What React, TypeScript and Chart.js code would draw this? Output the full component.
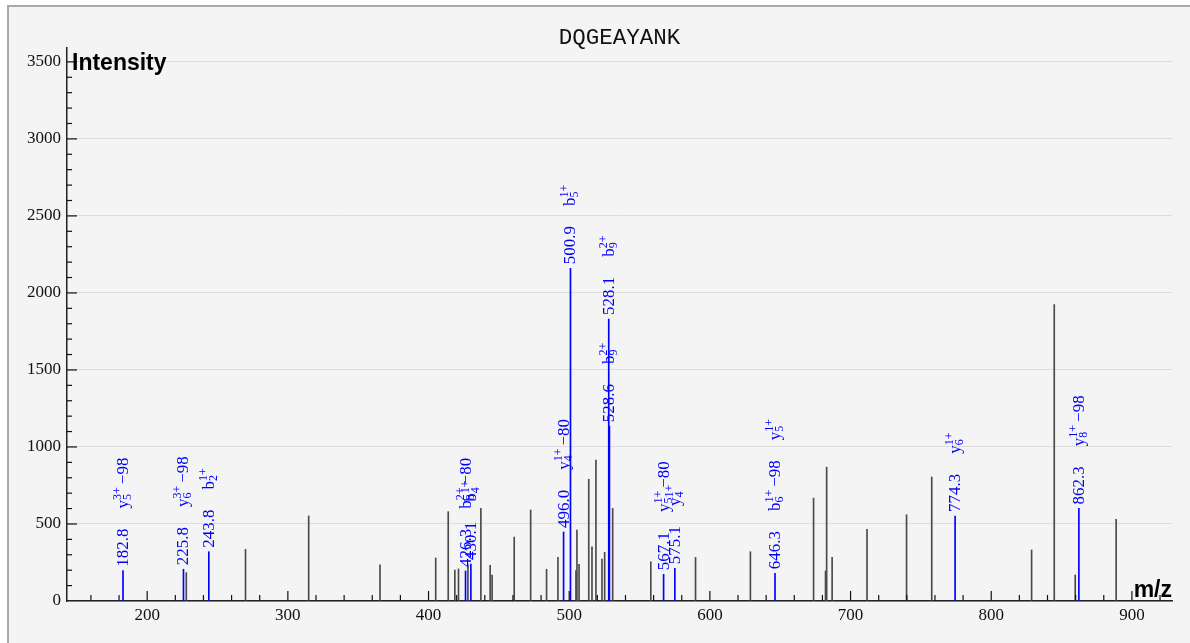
import React, { useEffect, useRef } from 'react';
import { Chart, registerables } from 'chart.js';

Chart.register(...registerables);

const chartTitle = 'DQGEAYANK';
const yAxisTitle = 'Intensity';
const xAxisTitle = 'm/z';

const xTickValues = [200, 300, 400, 500, 600, 700, 800, 900];
const yTickValues = [0, 500, 1000, 1500, 2000, 2500, 3000, 3500];

// Unannotated peaks (gray)
const grayMz = [227.8, 269.9, 314.8, 365.5, 405.1, 414.0, 418.7, 421.3, 428.0, 437.2, 443.8, 445.2, 460.9, 472.6, 483.9, 492.0, 504.8, 505.5, 507.0, 513.9, 516.2, 519.0, 523.3, 525.2, 530.9, 558.0, 589.8, 628.8, 673.7, 682.2, 683.0, 686.9, 711.7, 739.8, 757.7, 828.7, 844.8, 859.7, 888.8];
const grayIntensity = [184, 335, 552, 234, 279, 580, 201, 208, 234, 601, 232, 169, 415, 591, 206, 283, 197, 461, 238, 790, 352, 915, 272, 316, 601, 255, 283, 320, 668, 195, 869, 284, 466, 560, 805, 331, 1925, 169, 530];

// Annotated peaks (blue)
const ionMz = [182.8, 225.8, 243.8, 426.3, 430.1, 496.0, 500.9, 528.1, 528.6, 567.1, 575.1, 646.3, 774.3, 862.3];
const ionIntensity = [197, 206, 320, 195, 240, 448, 2160, 1830, 1135, 173, 212, 180, 552, 601];
const ionValueLabels = ['182.8', '225.8', '243.8', '426.3', '430.1', '496.0', '500.9', '528.1', '528.6', '567.1', '575.1', '646.3', '774.3', '862.3'];
const ionNames = [
  [{ t: 'y', sub: '5', sup: '3+', loss: '−98' }],
  [{ t: 'y', sub: '6', sup: '3+', loss: '−98' }],
  [{ t: 'b', sub: '2', sup: '1+', loss: '' }],
  [{ t: 'b', sub: '8', sup: '2+', loss: '−80' }],
  [{ t: 'b', sub: '4', sup: '1+', loss: '' }],
  [{ t: 'y', sub: '4', sup: '1+', loss: '−80' }],
  [{ t: 'b', sub: '5', sup: '1+', loss: '' }],
  [{ t: 'b', sub: '9', sup: '2+', loss: '' }],
  [{ t: 'b', sub: '9', sup: '2+', loss: '' }],
  [{ t: 'y', sub: '5', sup: '1+', loss: '−80' }],
  [{ t: 'y', sub: '4', sup: '1+', loss: '' }],
  [{ t: 'b', sub: '6', sup: '1+', loss: '−98' }, { t: 'y', sub: '5', sup: '1+', loss: '' }],
  [{ t: 'y', sub: '6', sup: '1+', loss: '' }],
  [{ t: 'y', sub: '8', sup: '1+', loss: '−98' }],
];

const X_MIN = 143;
const X_MAX = 928.5;
const Y_MAX = 3590;

const SERIF = '"Liberation Serif", "Times New Roman", serif';
const MAIN_FONT = `17px ${SERIF}`;
const SMALL_FONT = `12px ${SERIF}`;
const BLUE = '#0000ff';
const GRAY = '#4a4a4a';

const tickPlugin = {
  id: 'insideTicks',
  afterDatasetsDraw(chart: any) {
    const { ctx, scales, chartArea } = chart;
    const xs = scales.x;
    const ys = scales.y;
    ctx.save();
    ctx.strokeStyle = '#111';
    ctx.lineWidth = 1.2;
    for (let v = 160; v <= 920; v += 20) {
      const px = xs.getPixelForValue(v);
      const len = v % 100 === 0 ? 10 : 6;
      ctx.beginPath();
      ctx.moveTo(px, chartArea.bottom);
      ctx.lineTo(px, chartArea.bottom - len);
      ctx.stroke();
    }
    for (let v = 100; v <= 3500; v += 100) {
      const py = ys.getPixelForValue(v);
      const len = v % 500 === 0 ? 10 : 5;
      ctx.beginPath();
      ctx.moveTo(chartArea.left, py);
      ctx.lineTo(chartArea.left + len, py);
      ctx.stroke();
    }
    ctx.restore();
  },
};

function drawIon(ctx: CanvasRenderingContext2D, ion: any, start: number): number {
  const base = 5;
  ctx.font = MAIN_FONT;
  ctx.fillText(ion.t, start, base);
  let pos = start + ctx.measureText(ion.t).width;
  ctx.font = SMALL_FONT;
  ctx.fillText(ion.sup, pos, base - 7);
  ctx.fillText(ion.sub, pos, base + 3);
  pos += Math.max(ctx.measureText(ion.sup).width, ctx.measureText(ion.sub).width);
  if (ion.loss) {
    pos += 3;
    ctx.font = MAIN_FONT;
    ctx.fillText(ion.loss, pos, base);
    pos += ctx.measureText(ion.loss).width;
  }
  return pos;
}

const labelPlugin = {
  id: 'peakLabels',
  afterDatasetsDraw(chart: any) {
    const { ctx, scales } = chart;
    const xs = scales.x;
    const ys = scales.y;
    ctx.save();
    ctx.fillStyle = BLUE;
    ctx.textAlign = 'left';
    ctx.textBaseline = 'alphabetic';
    ionMz.forEach((mz, i) => {
      const px = xs.getPixelForValue(mz);
      const py = ys.getPixelForValue(ionIntensity[i]);
      ctx.save();
      ctx.translate(px, py);
      ctx.rotate(-Math.PI / 2);
      ctx.font = MAIN_FONT;
      let pos = 4;
      ctx.fillText(ionValueLabels[i], pos, 5);
      pos += ctx.measureText(ionValueLabels[i]).width + 20;
      for (const ion of ionNames[i]) {
        pos = drawIon(ctx, ion, pos) + 20;
      }
      ctx.restore();
    });
    ctx.restore();
  },
};

const textPlugin = {
  id: 'texts',
  afterDraw(chart: any) {
    const { ctx, chartArea } = chart;
    ctx.save();
    ctx.fillStyle = '#111';
    ctx.textBaseline = 'alphabetic';
    ctx.font = '22.5px "Liberation Mono", "Courier New", monospace';
    ctx.textAlign = 'center';
    ctx.fillText(chartTitle, (chartArea.left + chartArea.right) / 2, 44);
    ctx.fillStyle = '#000';
    ctx.font = 'bold 23px "Liberation Sans", Arial, sans-serif';
    ctx.textAlign = 'left';
    ctx.fillText(yAxisTitle, chartArea.left + 5, 70);
    ctx.font = 'bold 23px "Liberation Sans", Arial, sans-serif';
    ctx.textAlign = 'right';
    ctx.fillText(xAxisTitle, chartArea.right, 597);
    ctx.restore();
  },
};

export default function App() {
  const canvasRef = useRef<HTMLCanvasElement | null>(null);

  useEffect(() => {
    const canvas = canvasRef.current;
    if (!canvas) return;
    const points = [
      ...grayMz.map((x, i) => ({ x, y: grayIntensity[i] })),
      ...ionMz.map((x, i) => ({ x, y: ionIntensity[i] })),
    ];
    const colors = [...grayMz.map(() => GRAY), ...ionMz.map(() => BLUE)];
    const chart = new Chart(canvas, {
      type: 'bar',
      data: {
        datasets: [
          {
            data: points as any,
            backgroundColor: colors,
            borderWidth: 0,
            barThickness: 1,
          } as any,
        ],
      },
      options: {
        animation: false,
        responsive: false,
        maintainAspectRatio: false,
        layout: { padding: { left: 0, top: 48, right: 18, bottom: 0 } },
        plugins: {
          legend: { display: false },
          tooltip: { enabled: false },
          title: { display: false },
        },
        scales: {
          x: {
            type: 'linear',
            min: X_MIN,
            max: X_MAX,
            offset: false,
            grid: { display: false, drawTicks: false },
            border: { display: true, color: '#222', width: 1.5 },
            afterBuildTicks: (s: any) => {
              s.ticks = xTickValues.map((v) => ({ value: v }));
            },
            ticks: {
              autoSkip: false,
              maxRotation: 0,
              padding: 4,
              color: '#111',
              font: { family: '"Liberation Serif", serif', size: 17 },
              callback: (v: any) => String(v),
            },
            afterFit: (s: any) => {
              s.height = 42;
            },
          } as any,
          y: {
            type: 'linear',
            min: 0,
            max: Y_MAX,
            grid: { color: '#dcdcdc', lineWidth: 1, drawTicks: false },
            border: { display: true, color: '#222', width: 1.5 },
            afterBuildTicks: (s: any) => {
              s.ticks = yTickValues.map((v) => ({ value: v }));
            },
            ticks: {
              autoSkip: false,
              padding: 6,
              color: '#111',
              font: { family: '"Liberation Serif", serif', size: 17 },
              callback: (v: any) => String(v),
            },
            afterFit: (s: any) => {
              s.width = 67;
            },
          } as any,
        },
      },
      plugins: [tickPlugin, labelPlugin, textPlugin],
    });
    return () => chart.destroy();
  }, []);

  return (
    <>
      <div
        style={{
          position: 'fixed',
          left: 7,
          top: 5,
          width: 1200,
          height: 700,
          border: '2px solid #a9a9a9',
          background: '#f4f4f4',
        }}
      />
      <canvas
        ref={canvasRef}
        width={1190}
        height={643}
        style={{ position: 'fixed', left: 0, top: 0, width: 1190, height: 643 }}
      />
    </>
  );
}
